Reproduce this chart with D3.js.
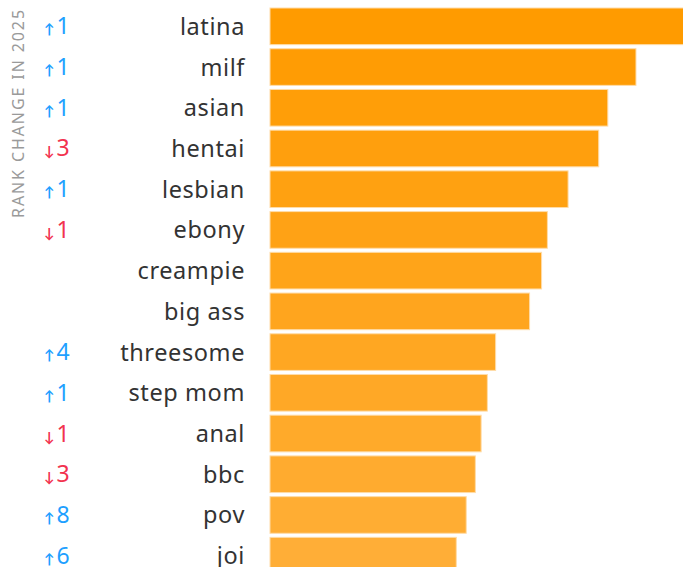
<!DOCTYPE html>
<html>
<head>
<meta charset="utf-8">
<script src="https://cdn.jsdelivr.net/npm/d3@7"></script>
<style>
  body { margin: 0; background: #fff; }
  text { font-family: "Noto Sans", Lato, sans-serif; }
</style>
</head>
<body>
<div id="chart"></div>
<script>
// terms, ranked by popularity (relative index)
const terms = ["latina", "milf", "asian", "hentai", "lesbian", "ebony", "creampie",
  "big ass", "threesome", "step mom", "anal", "bbc", "pov", "joi"];
const scores = [100, 88.4, 81.6, 79.4, 72, 67, 65.6, 62.7, 54.5, 52.5, 51, 49.6, 47.4, 45];
// rank change vs previous year (0 = unchanged)
const rankChange = [1, 1, 1, -3, 1, -1, 0, 0, 4, 1, -1, -3, 8, 6];

const W = 683, H = 567;

const svg = d3.select("#chart")
  .append("svg")
  .attr("width", W)
  .attr("height", H);

const y = d3.scaleBand()
  .domain(terms)
  .range([8, 574])
  .paddingInner(0.1)
  .paddingOuter(0);

const x = d3.scaleLinear()
  .domain([0, d3.max(scores)])
  .range([270, 684]);

const col = d3.scaleLinear()
  .domain([0, terms.length - 1])
  .range(["#ff9b00", "#ffae37"]);

const rows = terms.map((t, i) => ({ term: t, score: scores[i], change: rankChange[i], i }));

// bars
svg.selectAll("rect.bar")
  .data(rows)
  .join("rect")
  .attr("class", "bar")
  .attr("x", x(0))
  .attr("y", d => y(d.term))
  .attr("width", d => x(d.score) - x(0))
  .attr("height", y.bandwidth())
  .attr("fill", d => col(d.i))
  .attr("stroke", "#ffdca8")
  .attr("stroke-width", 1);

// term labels
svg.selectAll("text.term")
  .data(rows)
  .join("text")
  .attr("class", "term")
  .attr("x", 245)
  .attr("y", d => y(d.term) + y.bandwidth() / 2)
  .attr("dy", "0.36em")
  .attr("text-anchor", "end")
  .attr("font-size", 23.5)
  .attr("letter-spacing", 0.6)
  .attr("fill", "#333")
  .text(d => d.term);

// rank change
const rc = svg.selectAll("text.rank")
  .data(rows.filter(d => d.change !== 0))
  .join("text")
  .attr("class", "rank")
  .attr("x", 44)
  .attr("y", d => y(d.term) + y.bandwidth() / 2 + 8)
  .attr("font-size", 23)
  .attr("fill", d => d.change > 0 ? "#1ea0ff" : "#f2334f");

rc.append("tspan")
  .attr("font-size", 14)
  .attr("font-weight", "bold")
  .text(d => d.change > 0 ? "\u2191" : "\u2193");

rc.append("tspan")
  .attr("dx", 2)
  .text(d => Math.abs(d.change));

// side title
svg.append("text")
  .attr("transform", "translate(24,113) rotate(-90)")
  .attr("text-anchor", "middle")
  .attr("font-size", 16)
  .attr("letter-spacing", 1.9)
  .attr("fill", "#9a9a9a")
  .text("RANK CHANGE IN 2025");
</script>
</body>
</html>
